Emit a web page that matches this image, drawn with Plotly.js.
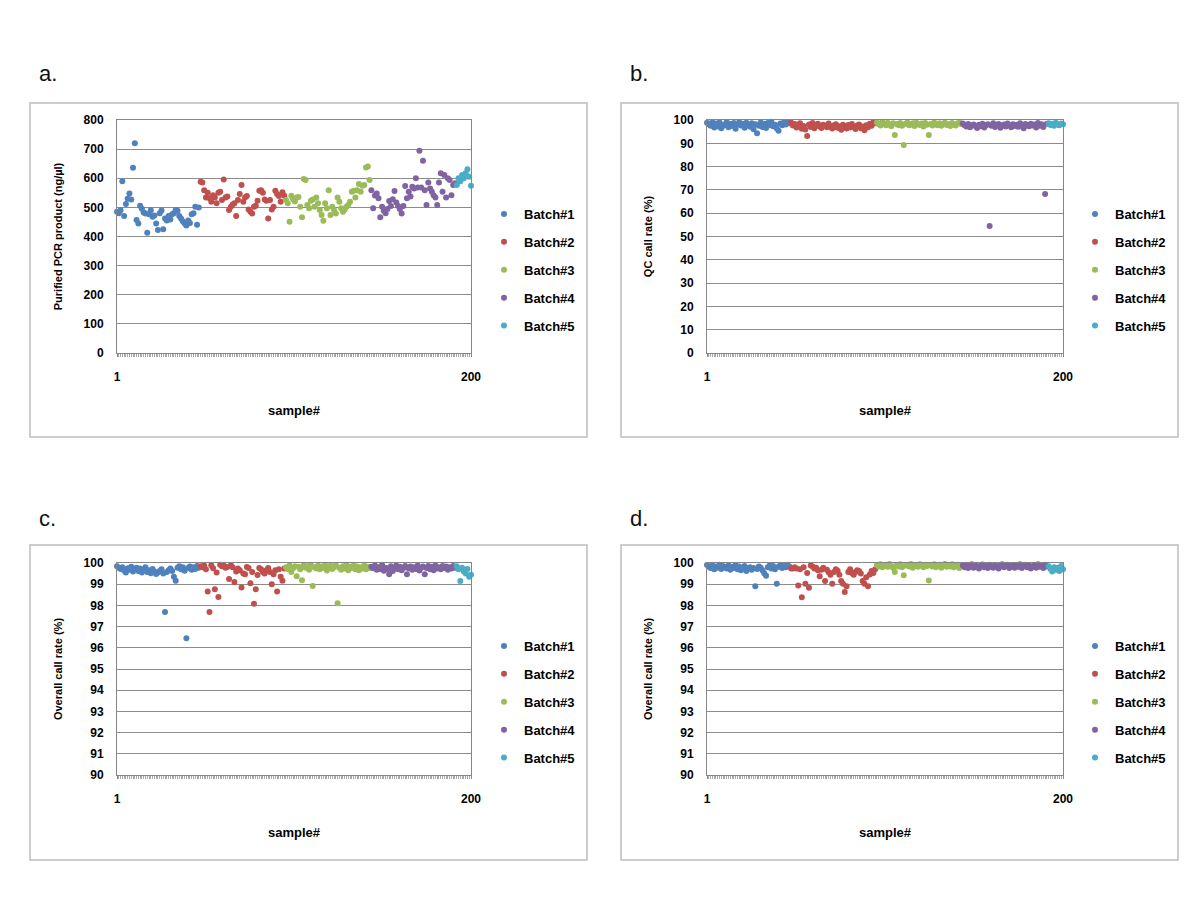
<!DOCTYPE html>
<html><head><meta charset="utf-8">
<script src="https://cdn.plot.ly/plotly-3.0.1.min.js"></script>
<style>html,body{margin:0;padding:0;background:#fff}</style>
</head><body><div id="chart" style="width:1200px;height:900px"></div>
<script>
const batchNames = ['Batch#1', 'Batch#2', 'Batch#3', 'Batch#4', 'Batch#5'];
const batchColors = ['#4F81BD', '#C0504D', '#9BBB59', '#8064A2', '#4BACC6'];
const panelLetters = ['a.', 'b.', 'c.', 'd.'];
const xTickVals = [1, 200];
const xTickText = ['1', '200'];

// a. Purified PCR product (ng/µl)
const pcrB1 = [485, 480, 490, 590, 470, 512, 530, 548, 527, 636, 720, 457, 445, 506, 495, 482, 479, 413, 476, 490, 468, 472, 445, 422, 480, 489, 425, 462, 455, 470, 458, 476, 480, 491, 488, 470, 462, 452, 445, 438, 455, 446, 476, 480, 502, 440, 500];
const pcrB2 = [588, 585, 559, 534, 550, 531, 519, 542, 534, 514, 550, 554, 525, 596, 534, 537, 491, 502, 510, 514, 470, 525, 546, 577, 519, 534, 539, 493, 485, 479, 502, 506, 523, 557, 559, 550, 527, 523, 462, 525, 493, 502, 557, 546, 539, 519, 552, 540];
const pcrB3 = [525, 514, 451, 540, 528, 520, 534, 536, 502, 466, 597, 594, 508, 497, 523, 527, 502, 534, 514, 491, 474, 454, 514, 497, 559, 474, 502, 491, 479, 534, 519, 497, 485, 493, 502, 508, 519, 554, 557, 534, 559, 580, 554, 574, 577, 637, 640, 594];
const pcrB4 = [559, 497, 541, 548, 531, 466, 502, 488, 480, 494, 522, 505, 528, 556, 517, 505, 494, 479, 505, 573, 531, 554, 537, 571, 565, 600, 568, 694, 568, 660, 559, 508, 585, 565, 554, 542, 534, 508, 585, 617, 554, 611, 534, 600, 594, 542, 577, 583];
const pcrB5 = [577, 600, 590, 611, 600, 617, 631, 605, 574];

// b. QC call rate (%)
const qcB1 = [98.8, 98.2, 97.5, 99.0, 96.8, 98.5, 97.2, 98.9, 96.5, 98.0, 97.8, 99.1, 96.9, 98.3, 97.4, 98.7, 96.2, 98.1, 99.0, 97.6, 98.4, 96.7, 98.8, 97.9, 97.1, 98.6, 96.0, 98.2, 94.3, 97.5, 98.9, 97.0, 98.4, 96.6, 98.7, 97.8, 99.2, 97.3, 98.0, 96.4, 95.4, 98.5, 97.7, 98.9, 98.1, 99.0, 98.6];
const qcB2 = [98.9, 97.6, 98.3, 96.8, 97.9, 98.6, 96.2, 97.4, 95.9, 93.1, 98.1, 97.0, 98.7, 96.5, 97.8, 98.4, 97.2, 96.6, 98.0, 97.5, 96.9, 98.5, 97.1, 96.3, 97.7, 98.2, 96.7, 97.3, 95.8, 98.0, 97.4, 96.4, 97.9, 96.8, 98.3, 97.0, 96.1, 97.6, 98.1, 96.5, 97.2, 95.6, 97.8, 96.9, 98.4, 97.5, 99.0, 98.6];
const qcB3 = [98.9, 98.2, 97.6, 99.1, 98.5, 97.8, 98.8, 98.0, 97.3, 98.6, 93.6, 98.3, 97.9, 98.7, 97.5, 89.3, 98.4, 98.9, 97.7, 98.1, 98.6, 97.4, 98.8, 98.2, 97.9, 98.5, 97.2, 98.7, 98.0, 93.6, 98.3, 97.6, 98.9, 98.1, 97.8, 98.6, 97.5, 98.4, 98.8, 97.9, 98.2, 97.4, 98.7, 98.0, 97.6, 98.5, 98.9, 98.3];
const qcB4 = [98.5, 97.8, 97.2, 98.3, 96.9, 97.6, 98.1, 97.4, 96.6, 98.0, 97.3, 98.4, 96.8, 97.7, 98.2, 54.5, 97.5, 98.6, 97.0, 97.9, 98.3, 96.7, 97.6, 98.1, 97.2, 98.5, 97.8, 96.9, 98.2, 97.4, 98.0, 97.1, 98.6, 97.7, 96.5, 98.3, 97.9, 97.3, 98.4, 97.6, 98.1, 96.8, 98.7, 97.5, 98.2, 97.0, 68.2, 98.4];
const qcB5 = [98.6, 97.9, 98.4, 97.5, 98.8, 98.1, 97.7, 98.5, 98.2];

// c. Overall call rate (%)
const ocB1 = [99.85, 99.78, 99.72, 99.80, 99.65, 99.55, 99.75, 99.68, 99.82, 99.60, 99.70, 99.78, 99.62, 99.74, 99.55, 99.68, 99.80, 99.58, 99.66, 99.52, 99.72, 99.60, 99.48, 99.55, 99.62, 99.70, 99.50, 97.69, 99.58, 99.66, 99.74, 99.62, 99.35, 99.16, 99.78, 99.85, 99.70, 99.80, 99.64, 96.45, 99.76, 99.84, 99.68, 99.80, 99.72, 99.86, 99.78];
const ocB2 = [99.85, 99.80, 99.88, 99.70, 98.65, 97.69, 99.89, 99.75, 98.76, 99.55, 98.40, 99.92, 99.85, 99.88, 99.78, 99.81, 99.25, 99.89, 99.80, 99.10, 99.60, 99.74, 99.66, 98.84, 99.50, 99.47, 99.81, 99.77, 99.04, 99.58, 98.08, 98.76, 99.43, 99.77, 99.70, 99.58, 99.50, 99.66, 99.77, 99.58, 99.00, 99.47, 99.66, 98.65, 99.70, 99.35, 99.16, 99.74];
const ocB3 = [99.80, 99.72, 99.88, 99.58, 99.75, 99.85, 99.38, 99.82, 99.70, 99.19, 99.90, 99.78, 99.85, 99.68, 99.92, 98.91, 99.80, 99.74, 99.88, 99.70, 99.83, 99.76, 99.90, 99.65, 99.82, 99.87, 99.72, 99.80, 99.90, 98.10, 99.78, 99.68, 99.85, 99.74, 99.90, 99.66, 99.82, 99.76, 99.88, 99.70, 99.84, 99.66, 99.80, 99.74, 99.88, 99.70, 99.82, 99.76];
const ocB4 = [99.82, 99.75, 99.88, 99.68, 99.80, 99.72, 99.90, 99.64, 99.78, 99.70, 99.47, 99.85, 99.62, 99.78, 99.88, 99.70, 99.82, 99.66, 99.76, 99.86, 99.47, 99.74, 99.84, 99.68, 99.80, 99.72, 99.88, 99.65, 99.78, 99.84, 99.47, 99.76, 99.86, 99.70, 99.82, 99.66, 99.88, 99.74, 99.80, 99.70, 99.86, 99.76, 99.84, 99.68, 99.80, 99.74, 99.86, 99.78];
const ocB5 = [99.85, 99.70, 99.15, 99.78, 99.60, 99.50, 99.72, 99.35, 99.45];

// d. Overall call rate (%)
const odB1 = [99.90, 99.82, 99.76, 99.88, 99.70, 99.84, 99.78, 99.92, 99.72, 99.86, 99.80, 99.74, 99.88, 99.68, 99.82, 99.76, 99.90, 99.70, 99.84, 99.66, 99.78, 99.86, 99.62, 99.74, 99.80, 99.68, 99.76, 98.90, 99.72, 99.84, 99.78, 99.66, 99.52, 99.40, 99.80, 99.88, 99.74, 99.86, 99.70, 99.02, 99.82, 99.90, 99.76, 99.86, 99.80, 99.92, 99.84];
const odB2 = [99.74, 99.74, 99.80, 99.74, 98.94, 99.70, 98.39, 99.80, 99.02, 99.53, 98.83, 99.88, 99.84, 99.74, 99.78, 99.66, 99.37, 99.68, 99.78, 99.15, 99.68, 99.56, 99.45, 99.02, 99.58, 99.70, 99.64, 99.45, 99.15, 99.02, 98.63, 98.90, 99.58, 99.70, 99.53, 99.45, 99.58, 99.66, 99.62, 99.50, 99.15, 99.02, 99.33, 98.90, 99.46, 99.62, 99.53, 99.70];
const odB3 = [99.90, 99.84, 99.94, 99.80, 99.88, 99.92, 99.82, 99.95, 99.86, 99.78, 99.57, 99.90, 99.84, 99.94, 99.80, 99.42, 99.88, 99.92, 99.84, 99.95, 99.78, 99.90, 99.86, 99.82, 99.94, 99.88, 99.80, 99.92, 99.86, 99.18, 99.90, 99.84, 99.94, 99.80, 99.88, 99.92, 99.78, 99.86, 99.95, 99.82, 99.90, 99.84, 99.94, 99.80, 99.88, 99.92, 99.76, 99.86];
const odB4 = [99.88, 99.80, 99.92, 99.76, 99.86, 99.94, 99.78, 99.90, 99.82, 99.74, 99.88, 99.93, 99.80, 99.86, 99.76, 99.92, 99.84, 99.78, 99.90, 99.82, 99.74, 99.88, 99.94, 99.80, 99.86, 99.92, 99.76, 99.84, 99.90, 99.78, 99.88, 99.82, 99.94, 99.76, 99.86, 99.92, 99.80, 99.88, 99.74, 99.84, 99.90, 99.78, 99.94, 99.82, 99.86, 99.76, 99.92, 99.84];
const odB5 = [99.85, 99.72, 99.60, 99.80, 99.68, 99.78, 99.62, 99.86, 99.70];

const yTitles = ['Purified PCR product (ng/µl)', 'QC call rate (%)', 'Overall call rate (%)', 'Overall call rate (%)'];
const yRanges = [[0, 800], [0, 100], [90, 100], [90, 100]];
const yDticks = [100, 10, 1, 1];

const panelData = [
  [pcrB1, pcrB2, pcrB3, pcrB4, pcrB5],
  [qcB1, qcB2, qcB3, qcB4, qcB5],
  [ocB1, ocB2, ocB3, ocB4, ocB5],
  [odB1, odB2, odB3, odB4, odB5]
];

// layout geometry (pixels in a 1200x900 page)
const W = 1200, H = 900;
const plotBoxes = [
  {l: 117, r: 471, t: 120, b: 353},
  {l: 707, r: 1063, t: 120, b: 353},
  {l: 117, r: 471, t: 563, b: 775},
  {l: 707, r: 1063, t: 563, b: 775}
];
const frames = [
  {l: 30, r: 587, t: 103, b: 437},
  {l: 621, r: 1178, t: 103, b: 437},
  {l: 30, r: 587, t: 545, b: 860},
  {l: 621, r: 1178, t: 545, b: 860}
];
const legendPos = [
  {x: 484, y: 199}, {x: 1075, y: 199}, {x: 484, y: 631}, {x: 1075, y: 631}
];
const letterPos = [{x: 37, y: 73}, {x: 628, y: 73}, {x: 37, y: 518}, {x: 628, y: 518}];

const FONT = 'Liberation Sans, Arial, sans-serif';
const traces = [];
const layout = {
  width: W, height: H,
  margin: {l: 0, r: 0, t: 0, b: 0},
  paper_bgcolor: '#ffffff', plot_bgcolor: '#ffffff',
  font: {family: FONT, color: '#000'},
  shapes: [], annotations: []
};

panelData.forEach((batches, p) => {
  const sfx = p === 0 ? '' : String(p + 1);
  const legName = 'legend' + sfx;
  let start = 1;
  batches.forEach((vals, k) => {
    const xs = vals.map((_, i) => start + i);
    start += vals.length;
    traces.push({
      type: 'scatter', mode: 'markers',
      x: xs, y: vals,
      xaxis: 'x' + sfx, yaxis: 'y' + sfx,
      name: batchNames[k],
      legend: legName,
      legendgroup: 'p' + p + 'b' + k,
      marker: {size: 6, color: batchColors[k]},
      cliponaxis: false,
      hoverinfo: 'x+y'
    });
  });
  const pb = plotBoxes[p];
  layout['xaxis' + sfx] = {
    domain: [pb.l / W, pb.r / W], anchor: 'y' + sfx,
    range: [1, 200], fixedrange: true,
    tickmode: 'array', tickvals: xTickVals, ticktext: xTickText,
    ticks: 'outside', ticklen: 3, tickcolor: '#8a8a8a', ticklabelstandoff: 10,
    minor: {tickmode: 'linear', tick0: 1, dtick: 1, ticks: 'outside', ticklen: 3, tickcolor: '#a8a8a8', showgrid: false},
    showline: true, linecolor: '#868686', linewidth: 1, mirror: true,
    showgrid: false, zeroline: false,
    tickfont: {family: FONT, size: 12, weight: 700, color: '#000'},
    title: {text: 'sample#', font: {family: FONT, size: 13, weight: 700, color: '#000'}, standoff: 22}
  };
  layout['yaxis' + sfx] = {
    domain: [1 - pb.b / H, 1 - pb.t / H], anchor: 'x' + sfx,
    range: yRanges[p], tick0: yRanges[p][0], dtick: yDticks[p], fixedrange: true,
    ticks: '', ticklabelstandoff: 10,
    showline: true, linecolor: '#868686', linewidth: 1, mirror: true,
    showgrid: true, gridcolor: '#8c8c8c', gridwidth: 1, zeroline: false,
    tickfont: {family: FONT, size: 12, weight: 700, color: '#000'},
    title: {text: yTitles[p], font: {family: FONT, size: 11, weight: 700, color: '#000'}, standoff: 18}
  };
  layout[legName] = {
    x: legendPos[p].x / W, y: 1 - legendPos[p].y / H, xanchor: 'left', yanchor: 'top',
    bgcolor: 'rgba(0,0,0,0)', borderwidth: 0,
    traceorder: 'grouped', tracegroupgap: 8,
    font: {family: FONT, size: 13, weight: 700, color: '#000'}
  };
  const fr = frames[p];
  layout.shapes.push({
    type: 'rect', xref: 'paper', yref: 'paper',
    x0: fr.l / W, x1: fr.r / W, y0: 1 - fr.b / H, y1: 1 - fr.t / H,
    line: {color: '#bdbdbd', width: 1.5}, fillcolor: 'rgba(0,0,0,0)', layer: 'below'
  });
  layout.annotations.push({
    text: panelLetters[p], xref: 'paper', yref: 'paper',
    x: letterPos[p].x / W, y: 1 - letterPos[p].y / H, xanchor: 'left', yanchor: 'middle',
    showarrow: false, font: {family: FONT, size: 22, color: '#111'}
  });
});

Plotly.newPlot('chart', traces, layout, {displayModeBar: false, staticPlot: true});
</script>
</body></html>
